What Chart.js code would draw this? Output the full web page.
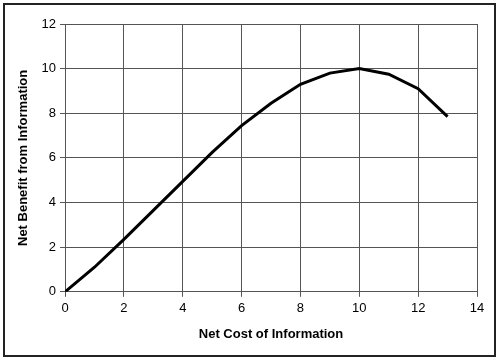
<!DOCTYPE html>
<html>
<head>
<meta charset="utf-8">
<script src="https://cdn.jsdelivr.net/npm/chart.js@4"></script>
<style>
    html, body { margin: 0; padding: 0; background: #fff; }
    #wrap { position: relative; width: 499px; height: 360px; }
    #frame {
        position: absolute; left: 3px; top: 3px; width: 489px; height: 350px;
        border: 2px solid #222;
    }
    canvas { position: absolute; left: 0; top: 0; }
</style>
</head>
<body>
<div id="wrap">
    <div id="frame"></div>
    <canvas id="benefitChart" width="499" height="360"></canvas>
</div>
<script>
// Net cost vs net benefit
const costValues = [0, 1, 2, 3, 4, 5, 6, 7, 8, 9, 10, 11, 12, 13];
const benefitValues = [0, 1.1, 2.35, 3.65, 4.95, 6.25, 7.45, 8.45, 9.3, 9.8, 10, 9.75, 9.1, 7.85];
const xTicks = [0, 2, 4, 6, 8, 10, 12, 14];
const yTicks = [0, 2, 4, 6, 8, 10, 12];

const points = costValues.map((x, i) => ({ x: x, y: benefitValues[i] }));

const ctx = document.getElementById('benefitChart').getContext('2d');

const chart = new Chart(ctx, {
    type: 'line',
    data: {
        datasets: [{
            data: points,
            borderColor: '#000',
            borderWidth: 3,
            pointRadius: 0,
            fill: false,
            tension: 0
        }]
    },
    options: {
        responsive: false,
        animation: false,
        layout: { padding: { left: 12, right: 22, top: 24, bottom: 14 } },
        plugins: {
            legend: { display: false },
            tooltip: { enabled: false }
        },
        scales: {
            x: {
                type: 'linear',
                min: 0,
                max: 14,
                afterBuildTicks: axis => { axis.ticks = xTicks.map(v => ({ value: v })); },
                grid: { color: '#555', lineWidth: 1, tickLength: 5, drawTicks: true },
                border: { color: '#555', width: 1 },
                ticks: { color: '#000', font: { family: 'Liberation Sans', size: 13 }, padding: 4 },
                title: {
                    display: true,
                    text: 'Net Cost of Information',
                    color: '#000',
                    font: { family: 'Liberation Sans', size: 13, weight: 'bold' },
                    padding: { top: 6 }
                }
            },
            y: {
                min: 0,
                max: 12,
                afterBuildTicks: axis => { axis.ticks = yTicks.map(v => ({ value: v })); },
                grid: { color: '#555', lineWidth: 1, tickLength: 5, drawTicks: true },
                border: { color: '#555', width: 1 },
                ticks: { color: '#000', font: { family: 'Liberation Sans', size: 13 }, padding: 4 },
                title: {
                    display: true,
                    text: 'Net Benefit from Information',
                    color: '#000',
                    font: { family: 'Liberation Sans', size: 13, weight: 'bold' },
                    padding: { bottom: 6 }
                }
            }
        }
    }
});
</script>
</body>
</html>
